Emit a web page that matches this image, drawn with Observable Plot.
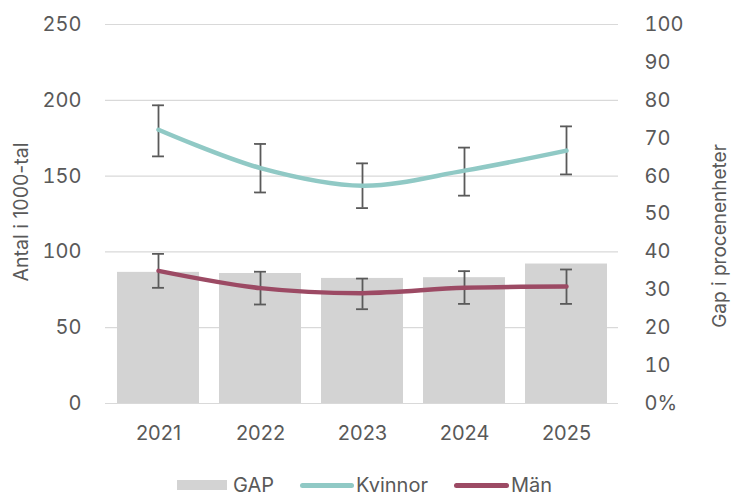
<!DOCTYPE html>
<html><head><meta charset="utf-8">
<script src="https://cdn.jsdelivr.net/npm/d3@7"></script>
<script src="https://cdn.jsdelivr.net/npm/@observablehq/plot@0.6"></script>
<style>
body{margin:0;background:#fff;font-family:Inter,"Noto Sans",sans-serif;}
#wrap{position:relative;width:734px;height:498px}
#legend{position:absolute;left:177px;top:472px;display:flex;align-items:center;height:26px;color:#595959;font-size:20px;line-height:26px}
.item{display:flex;align-items:center;margin-right:26px}
.sw{display:inline-block;margin-right:4px}
</style></head><body>
<div id="wrap"><div id="chart"></div><div id="legend"></div></div>
<script>
const years = ["2021","2022","2023","2024","2025"];
const gap = [34.6, 34.3, 33.0, 33.2, 36.8];
const kvinnor = [180.6, 155.3, 143.7, 153.6, 166.8];
const kvinnorLow = [163.0, 139.2, 128.9, 137.1, 151.1];
const kvinnorHigh = [196.7, 171.2, 158.4, 168.8, 182.8];
const man = [87.5, 76.1, 72.8, 76.3, 77.1];
const manLow = [76.3, 65.3, 62.2, 65.7, 65.7];
const manHigh = [98.7, 86.9, 82.4, 87.3, 88.4];
const leftTicks = [0, 50, 100, 150, 200, 250];
const rightTicks = [0, 10, 20, 30, 40, 50, 60, 70, 80, 90, 100];
const rightTickLabels = ["0%","10","20","30","40","50","60","70","80","90","100"];
const leftTitle = "Antal i 1000-tal";
const rightTitle = "Gap i procenenheter";
const ratio = 2.5; // right axis 0–100 maps onto left 0–250

const rows = years.map((y, i) => ({year: y, gap: gap[i], k: kvinnor[i], kl: kvinnorLow[i], kh: kvinnorHigh[i], m: man[i], ml: manLow[i], mh: manHigh[i]}));

const colK = "#90c9c5", colM = "#9c4a64", colBar = "#d3d3d3", colErr = "#5a5a5a", txt = "#595959";
const bandW = 513 / 5 * 0.8;
const capInset = (bandW - 12) / 2;
const fs = 20;

const plot = Plot.plot({
  width: 734, height: 460,
  marginLeft: 105, marginRight: 116, marginTop: 24, marginBottom: 57,
  style: {fontFamily: "Inter, 'Noto Sans', sans-serif", fontSize: fs + "px", color: txt},
  x: {type: "band", domain: years, paddingInner: 0.2, paddingOuter: 0.1},
  y: {domain: [0, 250]},
  marks: [
    Plot.gridY(leftTicks, {stroke: "#d9d9d9", strokeOpacity: 1, strokeWidth: 1.2}),
    Plot.barY(rows, {x: "year", y: d => d.gap * ratio, fill: colBar}),
    Plot.axisX({tickSize: 0, tickPadding: 22, label: null, fontSize: fs}),
    Plot.axisY(leftTicks, {anchor: "left", tickSize: 0, tickPadding: 24, label: null, fontSize: fs}),
    Plot.axisY(rightTicks.map(v => v * ratio), {anchor: "right", tickSize: 0, tickPadding: 26, tickFormat: (v) => rightTickLabels[rightTicks.indexOf(v / ratio)], textAnchor: "start", label: null, fontSize: fs}),
    Plot.text([leftTitle], {frameAnchor: "left", dx: -84, dy: -2, rotate: -90, fontSize: 19.5, fill: txt, textAnchor: "middle"}),
    Plot.text([rightTitle], {frameAnchor: "right", dx: 101, dy: 22, rotate: -90, fontSize: 19, fill: txt, textAnchor: "middle"}),
    // error bars
    Plot.ruleX(rows, {x: "year", y1: "kl", y2: "kh", stroke: colErr, strokeWidth: 1.8}),
    Plot.tickY(rows, {x: "year", y: "kl", stroke: colErr, strokeWidth: 1.8, inset: capInset}),
    Plot.tickY(rows, {x: "year", y: "kh", stroke: colErr, strokeWidth: 1.8, inset: capInset}),
    Plot.ruleX(rows, {x: "year", y1: "ml", y2: "mh", stroke: colErr, strokeWidth: 1.8}),
    Plot.tickY(rows, {x: "year", y: "ml", stroke: colErr, strokeWidth: 1.8, inset: capInset}),
    Plot.tickY(rows, {x: "year", y: "mh", stroke: colErr, strokeWidth: 1.8, inset: capInset}),
    // lines
    Plot.line(rows, {x: "year", y: "k", stroke: colK, strokeWidth: 4.5, curve: "catmull-rom"}),
    Plot.line(rows, {x: "year", y: "m", stroke: colM, strokeWidth: 4.5, curve: "catmull-rom"})
  ]
});
document.getElementById("chart").append(plot);

const legendItems = [
  {name: "GAP", type: "bar", color: colBar, w: 50},
  {name: "Kvinnor", type: "line", color: colK, w: 54},
  {name: "Män", type: "line", color: colM, w: 55}
];
const lg = document.getElementById("legend");
for (const it of legendItems) {
  const d = document.createElement("div"); d.className = "item";
  const s = document.createElement("span"); s.className = "sw";
  s.style.background = it.color; s.style.width = it.w + "px";
  if (it.type === "bar") { s.style.height = "10px"; s.style.marginRight = "6px"; } else { s.style.height = "5px"; s.style.borderRadius = "3px"; s.style.marginRight = "2px"; }
  d.append(s, document.createTextNode(it.name));
  lg.append(d);
}
</script></body></html>
